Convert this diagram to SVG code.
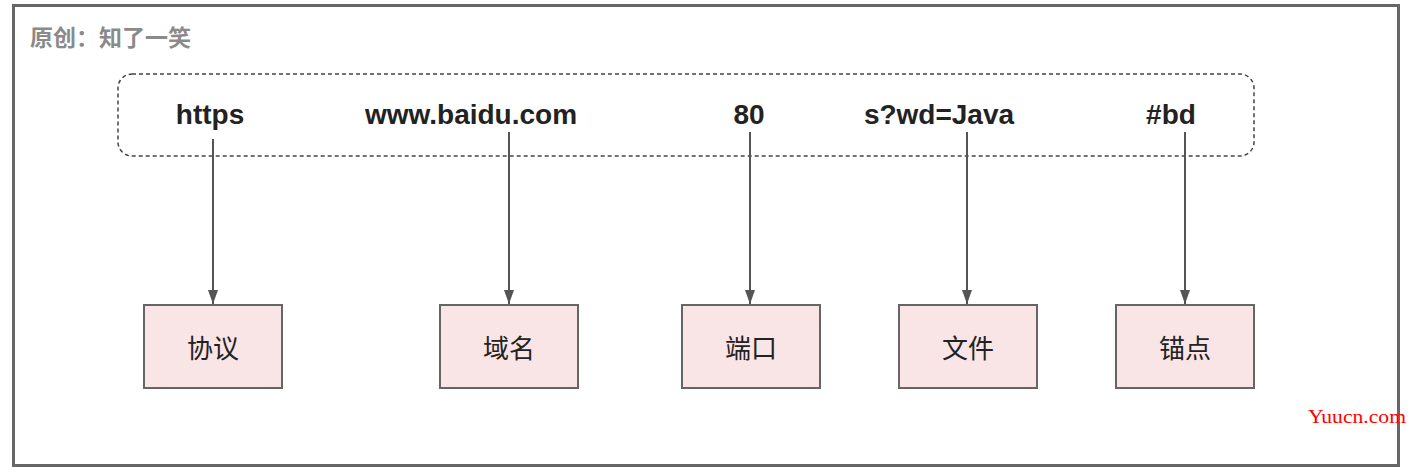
<svg xmlns="http://www.w3.org/2000/svg" width="1418" height="472" viewBox="0 0 1418 472">
<defs>
<style>
.url{font-family:"Liberation Sans",Arial,sans-serif;font-weight:bold;font-size:28px;fill:#222;text-anchor:middle}
.box{fill:#fae5e6;stroke:#666;stroke-width:2}
.lbl{font-family:"Noto Sans CJK SC","Liberation Sans",sans-serif;font-size:26px;fill:#222;text-anchor:middle;dominant-baseline:central}
.conn{stroke:#555;stroke-width:2;fill:none;marker-end:url(#ah)}
</style>
<marker id="ah" viewBox="0 0 14 10" refX="14" refY="5" markerWidth="14" markerHeight="10" markerUnits="userSpaceOnUse" orient="auto">
<path d="M0,0 L14,5 L0,10 Z" fill="#555"/>
</marker>
</defs>
<rect x="0" y="0" width="1418" height="472" fill="#fff"/>
<rect x="13.5" y="5.5" width="1385" height="460" fill="none" stroke="#666" stroke-width="3"/>
<text x="30" y="46" font-family="Noto Sans CJK SC,Liberation Sans,sans-serif" font-weight="bold" font-size="23" fill="#8a8a8a">原创：知了一笑</text>
<g id="url">
<rect x="118" y="74" width="1136" height="82" rx="14" ry="14" fill="none" stroke="#444" stroke-width="1.5" stroke-dasharray="4,3"/>
<text class="url" x="210" y="124">https</text>
<text class="url" x="471" y="124">www.baidu.com</text>
<text class="url" x="749" y="124">80</text>
<text class="url" x="939" y="124">s?wd=Java</text>
<text class="url" x="1171" y="124">#bd</text>
</g>
<g id="connectors">
<line class="conn" x1="213" y1="139" x2="213" y2="304"/>
<line class="conn" x1="509" y1="132" x2="509" y2="304"/>
<line class="conn" x1="750" y1="132" x2="750" y2="304"/>
<line class="conn" x1="967" y1="132" x2="967" y2="304"/>
<line class="conn" x1="1185" y1="132" x2="1185" y2="304"/>
</g>
<g id="n1"><rect class="box" x="144" y="305" width="138" height="83"/><text class="lbl" x="213" y="346">协议</text></g>
<g id="n2"><rect class="box" x="440" y="305" width="138" height="83"/><text class="lbl" x="509" y="346">域名</text></g>
<g id="n3"><rect class="box" x="682" y="305" width="138" height="83"/><text class="lbl" x="751" y="346">端口</text></g>
<g id="n4"><rect class="box" x="899" y="305" width="138" height="83"/><text class="lbl" x="968" y="346">文件</text></g>
<g id="n5"><rect class="box" x="1116" y="305" width="138" height="83"/><text class="lbl" x="1185" y="346">锚点</text></g>
<text x="1308" y="423" font-family="Liberation Serif,serif" font-size="18" fill="#ff0000" textLength="98" lengthAdjust="spacingAndGlyphs">Yuucn.com</text>
</svg>
